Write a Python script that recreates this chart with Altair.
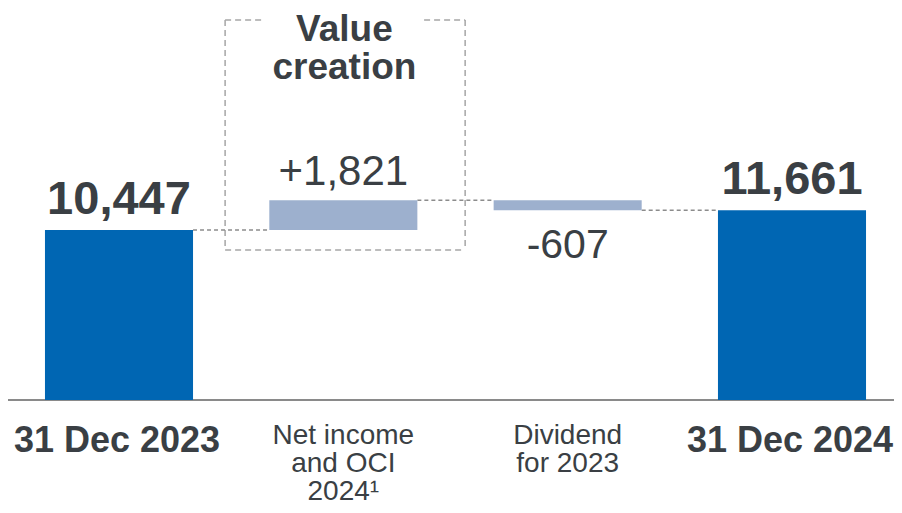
import altair as alt
import pandas as pd

# ---- data ----
categories = ["31 Dec 2023", "Net income\nand OCI\n2024¹", "Dividend\nfor 2023", "31 Dec 2024"]
positions = [0, 1, 2, 3]
values = [10447, 1821, -607, 11661]
is_total = [True, False, False, True]
value_labels = ["10,447", "+1,821", "-607", "11,661"]
title_text = "Value\ncreation"

BLUE = "#0066b3"
LIGHT = "#9db0ce"
TEXT = "#3a3f44"
GREY = "#8c8c8c"
FONT = "Liberation Sans"
HALF = 0.33

# waterfall computation
starts, ends = [], []
running = 0
for v, t in zip(values, is_total):
    if t:
        s, e = 0, v
        running = v
    else:
        s, e = running, running + v
        running = e
    starts.append(s)
    ends.append(e)

bars = pd.DataFrame({
    "pos": positions,
    "lo": [p - HALF for p in positions],
    "hi": [p + HALF for p in positions],
    "start": starts,
    "end": ends,
    "total": is_total,
    "label": value_labels,
    "cat": categories,
    "top": [max(s, e) for s, e in zip(starts, ends)],
    "bottom": [min(s, e) for s, e in zip(starts, ends)],
    "val": values,
})

conn = pd.DataFrame({
    "x": [positions[i] + HALF for i in range(3)],
    "x2": [positions[i + 1] - HALF for i in range(3)],
    "y": [ends[i] for i in range(3)],
})

# dashed "value creation" box around the net-income bar
box_left, box_right = 0.473, 1.543
box_top, box_bottom = 23352, 9218
gap_left, gap_right = 0.64, 1.36
box = pd.DataFrame({
    "x": [box_left, box_right, box_left, box_left, gap_right],
    "x2": [box_left, box_right, box_right, gap_left, box_right],
    "y": [box_top, box_top, box_bottom, box_top, box_top],
    "y2": [box_bottom, box_bottom, box_bottom, box_top, box_top],
})

xs = alt.Scale(domain=[-0.4948, 3.4547], nice=False, zero=False)
ys = alt.Scale(domain=[-6452, 24089], nice=False, zero=False)

base = alt.Chart(bars)

bar_layer = base.mark_bar(cornerRadius=0).encode(
    x=alt.X("lo:Q", scale=xs, axis=None),
    x2="hi:Q",
    y=alt.Y("start:Q", scale=ys, axis=None),
    y2="end:Q",
    color=alt.condition("datum.total", alt.value(BLUE), alt.value(LIGHT)),
)

baseline = alt.Chart(pd.DataFrame({"y": [0]})).mark_rule(color="#8a8a8a", strokeWidth=2).encode(
    y=alt.Y("y:Q", scale=ys, axis=None)
)

conn_layer = alt.Chart(conn).mark_rule(color=GREY, strokeWidth=1.5, strokeDash=[4, 3]).encode(
    x=alt.X("x:Q", scale=xs, axis=None), x2="x2:Q",
    y=alt.Y("y:Q", scale=ys, axis=None),
)

box_layer = alt.Chart(box).mark_rule(color="#a6a6a6", strokeWidth=1.5, strokeDash=[6, 4]).encode(
    x=alt.X("x:Q", scale=xs, axis=None), x2="x2:Q",
    y=alt.Y("y:Q", scale=ys, axis=None), y2="y2:Q",
)

total_labels = base.transform_filter("datum.total").mark_text(
    font=FONT, fontSize=47, fontWeight="bold", color=TEXT, baseline="alphabetic", dy=-16
).encode(x=alt.X("pos:Q", scale=xs), y=alt.Y("top:Q", scale=ys), text="label:N")

pos_labels = base.transform_filter("!datum.total && datum.val >= 0").mark_text(
    font=FONT, fontSize=42, color=TEXT, baseline="alphabetic", dy=-15
).encode(x=alt.X("pos:Q", scale=xs), y=alt.Y("top:Q", scale=ys), text="label:N")

neg_labels = base.transform_filter("!datum.total && datum.val < 0").mark_text(
    font=FONT, fontSize=41, color=TEXT, baseline="alphabetic", dy=48
).encode(x=alt.X("pos:Q", scale=xs), y=alt.Y("bottom:Q", scale=ys), text="label:N")

cat_total = base.transform_filter("datum.total").mark_text(
    font=FONT, fontSize=36, fontWeight="bold", color=TEXT, baseline="alphabetic", dy=52, dx=-2
).encode(x=alt.X("pos:Q", scale=xs), y=alt.datum(0, scale=ys), text="cat:N")

cat_delta = base.transform_filter("!datum.total").mark_text(
    font=FONT, fontSize=28, color=TEXT, baseline="alphabetic", dy=44, lineHeight=28, lineBreak="\n"
).encode(x=alt.X("pos:Q", scale=xs), y=alt.datum(0, scale=ys), text="cat:N")

title_layer = alt.Chart(pd.DataFrame({"x": [1.005], "y": [22061], "t": [title_text]})).mark_text(
    font=FONT, fontSize=37, fontWeight="bold", color=TEXT, baseline="alphabetic",
    lineHeight=38, lineBreak="\n"
).encode(x=alt.X("x:Q", scale=xs), y=alt.Y("y:Q", scale=ys), text="t:N")

chart = alt.layer(
    box_layer, baseline, conn_layer, bar_layer,
    total_labels, pos_labels, neg_labels, cat_total, cat_delta, title_layer
).properties(
    width=886, height=497, padding=0, background="white",
    autosize=alt.AutoSizeParams(type="none")
).configure_view(strokeWidth=0)

chart.save("out.html", embed_options={"renderer": "svg", "actions": False})
